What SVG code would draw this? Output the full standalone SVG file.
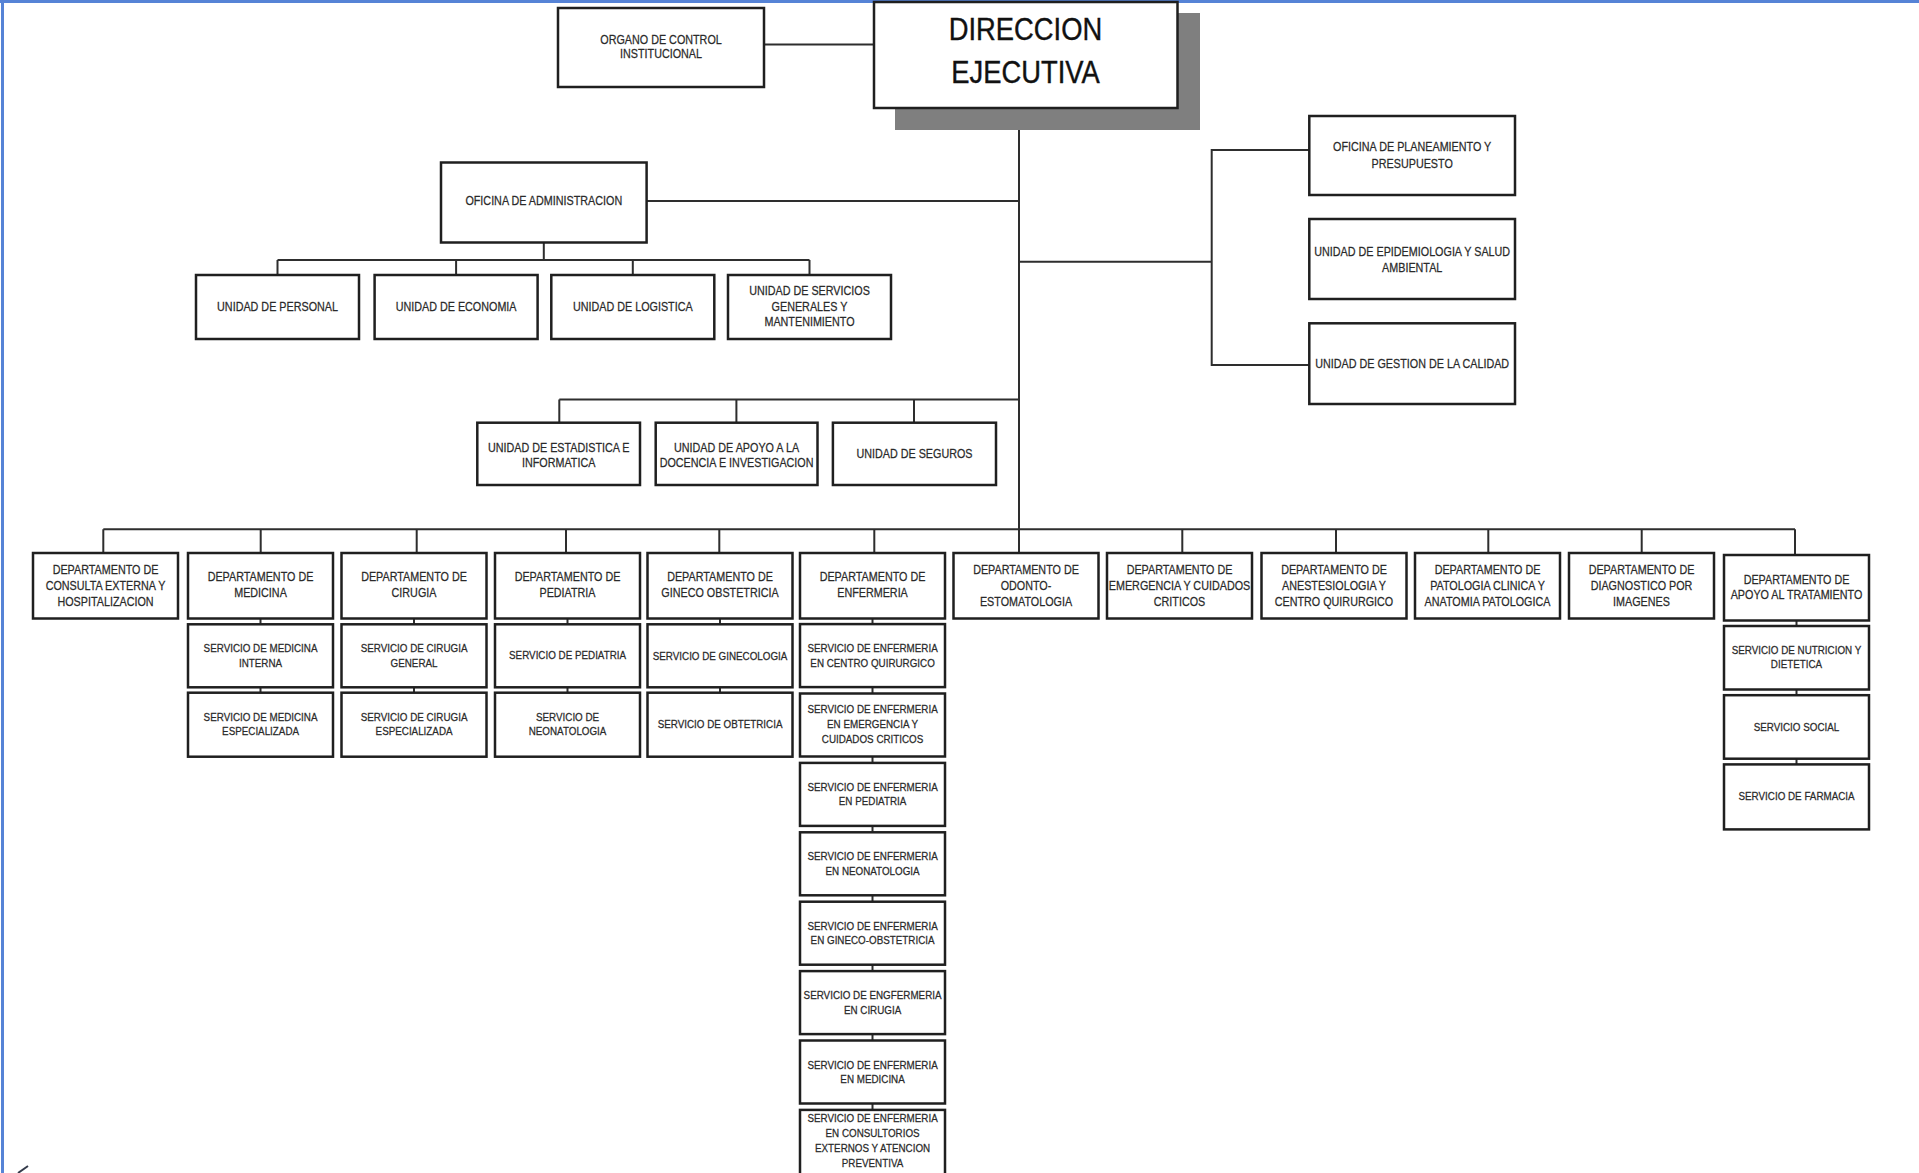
<svg xmlns="http://www.w3.org/2000/svg" width="1919" height="1173" viewBox="0 0 1919 1173">
  <style>
    .box { fill: #ffffff; stroke: #1f1f1f; stroke-width: 2.5; }
    .shadow { fill: #7f7f7f; }
    .ln { fill: none; stroke: #2e2e2e; stroke-width: 2; }
    .frame { fill: none; stroke: #5683d6; stroke-width: 3; }
    text { font-family: "Liberation Sans", Arial, sans-serif; fill: #2a2a2a; text-anchor: middle;
           stroke: #2a2a2a; stroke-width: 0.25;
           transform-box: fill-box; transform-origin: center; transform: scaleX(0.855); }
    .t { font-size: 12.6px; }
    .s { font-size: 11.5px; }
    .d { font-size: 32px; fill: #111111; stroke: #111111; stroke-width: 0.4; }
  </style>

  <rect x="0" y="0" width="1919" height="1173" fill="#ffffff"/>

  <!-- window frame -->
  <path class="frame" d="M0 1.5 H1919 M2.5 0 V1173"/>
  <path d="M18 1173 L28 1166" stroke="#333a4a" stroke-width="2" fill="none"/>

  <!-- connectors -->
  <g id="connectors" class="ln">
    <path d="M764 44.5 H874"/>
    <path d="M1019 108 V553"/>
    <path d="M646.6 201 H1019"/>
    <path d="M543.8 242.5 V260 M277.5 260 H809.5 M277.5 260 V275 M456.1 260 V275 M632.8 260 V275 M809.5 260 V275"/>
    <path d="M1019 261.7 H1211.7 M1309.3 150 H1211.7 V365 H1309.3"/>
    <path d="M559.3 399.5 H1019 M559.3 399.5 V422.7 M736.4 399.5 V422.7 M914 399.5 V422.7"/>
    <path d="M103.3 529.3 H1795"/>
    <path d="M103.3 529.3 V553 M260.7 529.3 V553 M416.7 529.3 V553 M566 529.3 V553 M719.3 529.3 V553 M874.3 529.3 V553 M1182.3 529.3 V553 M1336 529.3 V553 M1488.3 529.3 V553 M1641.7 529.3 V553 M1795 529.3 V555"/>
    <!-- service stacks -->
    <path d="M260.5 618.5 V624.3 M260.5 687.3 V692.7"/>
    <path d="M414 618.5 V624.3 M414 687.3 V692.7"/>
    <path d="M567.5 618.5 V624.3 M567.5 687.3 V692.7"/>
    <path d="M720 618.5 V624.3 M720 687.3 V692.7"/>
    <path d="M872.5 618.5 V624.1 M872.5 687.1 V693.5 M872.5 756.5 V762.9 M872.5 825.9 V832.3 M872.5 895.3 V901.7 M872.5 964.7 V971.1 M872.5 1034.1 V1040.5 M872.5 1103.5 V1109.9"/>
    <path d="M1796.5 620.5 V626 M1796.5 689.5 V695.2 M1796.5 758.7 V764.4"/>
  </g>

  <!-- top level -->
  <g id="organo-control">
    <rect class="box" x="558" y="8" width="206" height="79"/>
    <text class="t"><tspan x="661" y="43.8">ORGANO DE CONTROL</tspan><tspan x="661" y="57.8">INSTITUCIONAL</tspan></text>
  </g>
  <g id="direccion-ejecutiva">
    <rect class="shadow" x="895" y="13" width="305" height="117"/>
    <rect class="box" x="874" y="2" width="303.5" height="106"/>
    <text class="d"><tspan x="1025.5" y="39.8">DIRECCION</tspan><tspan x="1025.5" y="83.2">EJECUTIVA</tspan></text>
  </g>

  <!-- administration -->
  <g id="oficina-administracion">
    <rect class="box" x="441" y="162.5" width="205.6" height="80"/>
    <text class="t" x="543.8" y="205.5">OFICINA DE ADMINISTRACION</text>
  </g>
  <g id="unidad-personal">
    <rect class="box" x="196" y="275" width="163" height="64"/>
    <text class="t" x="277.5" y="311">UNIDAD DE PERSONAL</text>
  </g>
  <g id="unidad-economia">
    <rect class="box" x="374.6" y="275" width="163" height="64"/>
    <text class="t" x="456.1" y="311">UNIDAD DE ECONOMIA</text>
  </g>
  <g id="unidad-logistica">
    <rect class="box" x="551.3" y="275" width="163" height="64"/>
    <text class="t" x="632.8" y="311">UNIDAD DE LOGISTICA</text>
  </g>
  <g id="unidad-servicios-generales">
    <rect class="box" x="728" y="275" width="163" height="64"/>
    <text class="t"><tspan x="809.5" y="295.5">UNIDAD DE SERVICIOS</tspan><tspan x="809.5" y="311">GENERALES Y</tspan><tspan x="809.5" y="326.5">MANTENIMIENTO</tspan></text>
  </g>

  <!-- advisory offices -->
  <g id="oficina-planeamiento">
    <rect class="box" x="1309.3" y="116" width="205.7" height="79"/>
    <text class="t"><tspan x="1412.2" y="151.2">OFICINA DE PLANEAMIENTO Y</tspan><tspan x="1412.2" y="168.5">PRESUPUESTO</tspan></text>
  </g>
  <g id="unidad-epidemiologia">
    <rect class="box" x="1309.3" y="219" width="205.7" height="80"/>
    <text class="t"><tspan x="1412.2" y="256.2">UNIDAD DE EPIDEMIOLOGIA Y SALUD</tspan><tspan x="1412.2" y="272.2">AMBIENTAL</tspan></text>
  </g>
  <g id="unidad-gestion-calidad">
    <rect class="box" x="1309.3" y="323.3" width="205.7" height="80.7"/>
    <text class="t" x="1412.2" y="367.8">UNIDAD DE GESTION DE LA CALIDAD</text>
  </g>

  <!-- support units -->
  <g id="unidad-estadistica">
    <rect class="box" x="477.3" y="422.7" width="162.7" height="62.3"/>
    <text class="t"><tspan x="558.7" y="452.2">UNIDAD DE ESTADISTICA E</tspan><tspan x="558.7" y="467.2">INFORMATICA</tspan></text>
  </g>
  <g id="unidad-docencia">
    <rect class="box" x="655.7" y="422.7" width="161.8" height="62.3"/>
    <text class="t"><tspan x="736.6" y="452.2">UNIDAD DE APOYO A LA</tspan><tspan x="736.6" y="467.2">DOCENCIA E INVESTIGACION</tspan></text>
  </g>
  <g id="unidad-seguros">
    <rect class="box" x="832.9" y="422.7" width="163.1" height="62.3"/>
    <text class="t" x="914.5" y="458.5">UNIDAD DE SEGUROS</text>
  </g>

  <!-- departments -->
  <g id="dep-consulta-externa">
    <rect class="box" x="33" y="553" width="145" height="65.5"/>
    <text class="t"><tspan x="105.5" y="574">DEPARTAMENTO DE</tspan><tspan x="105.5" y="590">CONSULTA EXTERNA Y</tspan><tspan x="105.5" y="606">HOSPITALIZACION</tspan></text>
  </g>
  <g id="dep-medicina">
    <rect class="box" x="188" y="553" width="145" height="65.5"/>
    <text class="t"><tspan x="260.5" y="581.2">DEPARTAMENTO DE</tspan><tspan x="260.5" y="596.8">MEDICINA</tspan></text>
  </g>
  <g id="dep-cirugia">
    <rect class="box" x="341.5" y="553" width="145" height="65.5"/>
    <text class="t"><tspan x="414" y="581.2">DEPARTAMENTO DE</tspan><tspan x="414" y="596.8">CIRUGIA</tspan></text>
  </g>
  <g id="dep-pediatria">
    <rect class="box" x="495" y="553" width="145" height="65.5"/>
    <text class="t"><tspan x="567.5" y="581.2">DEPARTAMENTO DE</tspan><tspan x="567.5" y="596.8">PEDIATRIA</tspan></text>
  </g>
  <g id="dep-gineco-obstetricia">
    <rect class="box" x="647.5" y="553" width="145" height="65.5"/>
    <text class="t"><tspan x="720" y="581.2">DEPARTAMENTO DE</tspan><tspan x="720" y="596.8">GINECO OBSTETRICIA</tspan></text>
  </g>
  <g id="dep-enfermeria">
    <rect class="box" x="800" y="553" width="145" height="65.5"/>
    <text class="t"><tspan x="872.5" y="581.2">DEPARTAMENTO DE</tspan><tspan x="872.5" y="596.8">ENFERMERIA</tspan></text>
  </g>
  <g id="dep-odonto">
    <rect class="box" x="953.5" y="553" width="145" height="65.5"/>
    <text class="t"><tspan x="1026" y="574">DEPARTAMENTO DE</tspan><tspan x="1026" y="590">ODONTO-</tspan><tspan x="1026" y="606">ESTOMATOLOGIA</tspan></text>
  </g>
  <g id="dep-emergencia">
    <rect class="box" x="1107" y="553" width="145" height="65.5"/>
    <text class="t"><tspan x="1179.5" y="574">DEPARTAMENTO DE</tspan><tspan x="1179.5" y="590">EMERGENCIA Y CUIDADOS</tspan><tspan x="1179.5" y="606">CRITICOS</tspan></text>
  </g>
  <g id="dep-anestesiologia">
    <rect class="box" x="1261.5" y="553" width="145" height="65.5"/>
    <text class="t"><tspan x="1334" y="574">DEPARTAMENTO DE</tspan><tspan x="1334" y="590">ANESTESIOLOGIA Y</tspan><tspan x="1334" y="606">CENTRO QUIRURGICO</tspan></text>
  </g>
  <g id="dep-patologia">
    <rect class="box" x="1415" y="553" width="145" height="65.5"/>
    <text class="t"><tspan x="1487.5" y="574">DEPARTAMENTO DE</tspan><tspan x="1487.5" y="590">PATOLOGIA CLINICA Y</tspan><tspan x="1487.5" y="606">ANATOMIA PATOLOGICA</tspan></text>
  </g>
  <g id="dep-diagnostico">
    <rect class="box" x="1569" y="553" width="145" height="65.5"/>
    <text class="t"><tspan x="1641.5" y="574">DEPARTAMENTO DE</tspan><tspan x="1641.5" y="590">DIAGNOSTICO POR</tspan><tspan x="1641.5" y="606">IMAGENES</tspan></text>
  </g>
  <g id="dep-apoyo-tratamiento">
    <rect class="box" x="1724" y="555" width="145" height="65.5"/>
    <text class="t"><tspan x="1796.5" y="583.8">DEPARTAMENTO DE</tspan><tspan x="1796.5" y="598.8">APOYO AL TRATAMIENTO</tspan></text>
  </g>

  <!-- services: medicina -->
  <g id="srv-medicina-interna">
    <rect class="box" x="188" y="624.3" width="145" height="63"/>
    <text class="s"><tspan x="260.5" y="652.4">SERVICIO DE MEDICINA</tspan><tspan x="260.5" y="666.9">INTERNA</tspan></text>
  </g>
  <g id="srv-medicina-especializada">
    <rect class="box" x="188" y="692.7" width="145" height="64"/>
    <text class="s"><tspan x="260.5" y="720.8">SERVICIO DE MEDICINA</tspan><tspan x="260.5" y="735.3">ESPECIALIZADA</tspan></text>
  </g>

  <!-- services: cirugia -->
  <g id="srv-cirugia-general">
    <rect class="box" x="341.5" y="624.3" width="145" height="63"/>
    <text class="s"><tspan x="414" y="652.4">SERVICIO DE CIRUGIA</tspan><tspan x="414" y="666.9">GENERAL</tspan></text>
  </g>
  <g id="srv-cirugia-especializada">
    <rect class="box" x="341.5" y="692.7" width="145" height="64"/>
    <text class="s"><tspan x="414" y="720.8">SERVICIO DE CIRUGIA</tspan><tspan x="414" y="735.3">ESPECIALIZADA</tspan></text>
  </g>

  <!-- services: pediatria -->
  <g id="srv-pediatria">
    <rect class="box" x="495" y="624.3" width="145" height="63"/>
    <text class="s" x="567.5" y="659">SERVICIO DE PEDIATRIA</text>
  </g>
  <g id="srv-neonatologia">
    <rect class="box" x="495" y="692.7" width="145" height="64"/>
    <text class="s"><tspan x="567.5" y="721.4">SERVICIO DE</tspan><tspan x="567.5" y="735.1">NEONATOLOGIA</tspan></text>
  </g>

  <!-- services: gineco obstetricia -->
  <g id="srv-ginecologia">
    <rect class="box" x="647.5" y="624.3" width="145" height="63"/>
    <text class="s" x="720" y="659.8">SERVICIO DE GINECOLOGIA</text>
  </g>
  <g id="srv-obstetricia">
    <rect class="box" x="647.5" y="692.7" width="145" height="64"/>
    <text class="s" x="720" y="728.4">SERVICIO DE OBTETRICIA</text>
  </g>

  <!-- services: enfermeria -->
  <g id="srv-enf-centro-quirurgico">
    <rect class="box" x="800" y="624.1" width="145" height="63"/>
    <text class="s"><tspan x="872.5" y="652.2">SERVICIO DE ENFERMERIA</tspan><tspan x="872.5" y="666.7">EN CENTRO QUIRURGICO</tspan></text>
  </g>
  <g id="srv-enf-emergencia">
    <rect class="box" x="800" y="693.5" width="145" height="63"/>
    <text class="s"><tspan x="872.5" y="713.4">SERVICIO DE ENFERMERIA</tspan><tspan x="872.5" y="728.1">EN EMERGENCIA Y</tspan><tspan x="872.5" y="743.1">CUIDADOS CRITICOS</tspan></text>
  </g>
  <g id="srv-enf-pediatria">
    <rect class="box" x="800" y="762.9" width="145" height="63"/>
    <text class="s"><tspan x="872.5" y="791">SERVICIO DE ENFERMERIA</tspan><tspan x="872.5" y="805.5">EN PEDIATRIA</tspan></text>
  </g>
  <g id="srv-enf-neonatologia">
    <rect class="box" x="800" y="832.3" width="145" height="63"/>
    <text class="s"><tspan x="872.5" y="860.4">SERVICIO DE ENFERMERIA</tspan><tspan x="872.5" y="874.9">EN NEONATOLOGIA</tspan></text>
  </g>
  <g id="srv-enf-gineco-obstetricia">
    <rect class="box" x="800" y="901.7" width="145" height="63"/>
    <text class="s"><tspan x="872.5" y="929.8">SERVICIO DE ENFERMERIA</tspan><tspan x="872.5" y="944.3">EN GINECO-OBSTETRICIA</tspan></text>
  </g>
  <g id="srv-enf-cirugia">
    <rect class="box" x="800" y="971.1" width="145" height="63"/>
    <text class="s"><tspan x="872.5" y="999.2">SERVICIO DE ENGFERMERIA</tspan><tspan x="872.5" y="1013.7">EN CIRUGIA</tspan></text>
  </g>
  <g id="srv-enf-medicina">
    <rect class="box" x="800" y="1040.5" width="145" height="63"/>
    <text class="s"><tspan x="872.5" y="1068.6">SERVICIO DE ENFERMERIA</tspan><tspan x="872.5" y="1083.1">EN MEDICINA</tspan></text>
  </g>
  <g id="srv-enf-consultorios">
    <rect class="box" x="800" y="1109.9" width="145" height="80"/>
    <text class="s"><tspan x="872.5" y="1122.5">SERVICIO DE ENFERMERIA</tspan><tspan x="872.5" y="1137.5">EN CONSULTORIOS</tspan><tspan x="872.5" y="1152.5">EXTERNOS Y ATENCION</tspan><tspan x="872.5" y="1167.5">PREVENTIVA</tspan></text>
  </g>

  <!-- services: apoyo al tratamiento -->
  <g id="srv-nutricion">
    <rect class="box" x="1724" y="626" width="145" height="63.5"/>
    <text class="s"><tspan x="1796.5" y="654.1">SERVICIO DE NUTRICION Y</tspan><tspan x="1796.5" y="668.1">DIETETICA</tspan></text>
  </g>
  <g id="srv-social">
    <rect class="box" x="1724" y="695.2" width="145" height="63.5"/>
    <text class="s" x="1796.5" y="731.4">SERVICIO SOCIAL</text>
  </g>
  <g id="srv-farmacia">
    <rect class="box" x="1724" y="764.4" width="145" height="65"/>
    <text class="s" x="1796.5" y="800.1">SERVICIO DE FARMACIA</text>
  </g>
</svg>
